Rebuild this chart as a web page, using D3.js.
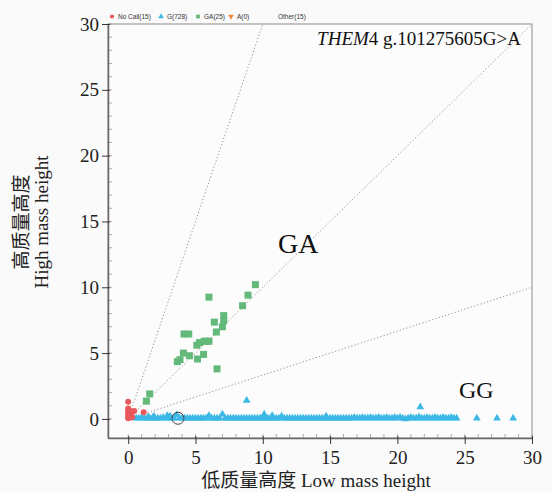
<!DOCTYPE html>
<html>
<head>
<meta charset="utf-8">
<style>
  body { margin: 0; background: #fafafa; }
  svg { display: block; }
</style>
</head>
<body>
<script src="https://d3js.org/d3.v7.min.js"></script>
<div id="chart"></div>
<script>
// legend entries
const legendItems = [
  { label: "No Call(15)", color: "#e8595b", shape: "circle" },
  { label: "G(728)", color: "#3bb8e6", shape: "triangle" },
  { label: "GA(25)", color: "#62b97a", shape: "square" },
  { label: "A(0)", color: "#f08a3c", shape: "down" },
  { label: "Other(15)", color: "none", shape: "none" }
]

const xTicks = [0, 5, 10, 15, 20, 25, 30]
const yTicks = [0, 5, 10, 15, 20, 25, 30]
const refSlopes = [3, 1, 1 / 3]

// No Call (red circles)
const noCall = [
  [0, 1.3], [0, 0.8], [0, 0.6], [0, 0.45], [0, 0.3], [0, 0.15], [0, 0.05],
  [0.1, 0.2], [0.15, 0.35], [0.3, 0.55], [0.45, 0.6], [0.2, 0.1], [0.05, 0.7],
  [1.15, 0.5], [0.3, 0.15]
]

// GA (green squares)
const gaPoints = [
  [1.6, 1.9], [1.35, 1.35], [3.65, 4.35], [3.85, 4.5], [4.1, 5.0], [4.55, 4.8],
  [4.15, 6.45], [4.5, 6.45], [5.15, 4.55], [5.6, 4.9], [5.1, 5.6], [5.3, 5.8],
  [5.65, 5.9], [6.0, 5.9], [6.6, 3.8], [6.0, 9.25], [6.4, 7.35], [6.55, 6.6],
  [7.0, 7.0], [7.1, 7.45], [7.1, 7.85], [8.5, 8.6], [8.9, 9.4], [9.45, 10.2],
  [5.85, 5.9]
]

// G (blue triangles): dense band near zero
const gBand = [
  [0.6, 0.05], [0.8, 0.05], [1.0, 0.1], [1.2, 0.05], [1.4, 0.05], [1.5, 0.15], [1.6, 0.05], [1.8, 0.05], [1.9, 0.2], [2.0, 0.05],
  [2.2, 0.05], [2.4, 0.05], [2.6, 0.1], [2.8, 0.05], [2.9, 0.25], [3.0, 0.05], [3.1, 0.2], [3.2, 0.05], [3.4, 0.05], [3.6, 0.3],
  [3.8, 0.05], [4.0, 0.05], [4.2, 0.05], [4.4, 0.05], [4.6, 0.05], [4.8, 0.05], [5.0, 0.05], [5.2, 0.05], [5.4, 0.05], [5.6, 0.05],
  [5.8, 0.05], [6.0, 0.25], [6.2, 0.05], [6.4, 0.05], [6.6, 0.05], [6.8, 0.05], [7.0, 0.35], [7.2, 0.05], [7.4, 0.05], [7.6, 0.05],
  [7.8, 0.05], [8.0, 0.05], [8.2, 0.05], [8.4, 0.05], [8.6, 0.05], [8.8, 0.05], [9.0, 0.05], [9.2, 0.05], [9.4, 0.05], [9.6, 0.05],
  [9.8, 0.05], [10.0, 0.05], [10.1, 0.35], [10.2, 0.05], [10.4, 0.05], [10.6, 0.05], [10.7, 0.25], [10.8, 0.05], [11.0, 0.05], [11.2, 0.05],
  [11.4, 0.2], [11.6, 0.05], [11.8, 0.05], [12.0, 0.05], [12.2, 0.05], [12.4, 0.05], [12.6, 0.05], [12.8, 0.05], [13.0, 0.05], [13.2, 0.05],
  [13.4, 0.05], [13.6, 0.05], [13.8, 0.05], [14.0, 0.05], [14.2, 0.05], [14.4, 0.05], [14.6, 0.05], [14.7, 0.2], [14.8, 0.05], [15.0, 0.05],
  [15.2, 0.05], [15.4, 0.05], [15.6, 0.05], [15.8, 0.05], [16.0, 0.05], [16.2, 0.05], [16.4, 0.05], [16.6, 0.05], [16.8, 0.1], [17.0, 0.05],
  [17.2, 0.05], [17.4, 0.1], [17.6, 0.05], [17.8, 0.05], [18.0, 0.1], [18.2, 0.05], [18.4, 0.05], [18.6, 0.1], [18.8, 0.05], [19.0, 0.05],
  [19.2, 0.1], [19.4, 0.05], [19.6, 0.05], [19.8, 0.1], [20.0, 0.05], [20.2, 0.1], [20.4, 0.05], [20.6, 0.0], [20.8, 0.05], [21.0, 0.1],
  [21.2, 0.05], [21.4, 0.05], [21.6, 0.15], [21.8, 0.05], [22.0, 0.05], [22.2, 0.1], [22.4, 0.05], [22.6, 0.05], [22.8, 0.1], [23.0, 0.05],
  [23.2, 0.05], [23.4, 0.1], [23.6, 0.05], [23.8, 0.05], [24.0, 0.1], [24.2, 0.05], [24.4, 0.05]
]

// G outliers
const gOutliers = [[8.8, 1.4], [21.7, 0.9], [25.9, 0.05], [27.4, 0.05], [28.6, 0.05]]

const highlight = [3.7, 0.05]

const width = 552
const height = 492
const margin = { top: 24, right: 20, bottom: 54, left: 108 }

const serif = "'Liberation Serif', 'Noto Sans CJK SC', serif"

const svg = d3.select("#chart").append("svg")
  .attr("width", width).attr("height", height)

const x = d3.scaleLinear().domain([-1.5, 30]).range([margin.left, width - margin.right])
const y = d3.scaleLinear().domain([-1.45, 30]).range([height - margin.bottom, margin.top])

const x0 = x.range()[0], x1 = x.range()[1]
const y0 = y.range()[0], y1 = y.range()[1]

// frame
svg.append("rect")
  .attr("x", x0).attr("y", y1)
  .attr("width", x1 - x0).attr("height", y0 - y1)
  .attr("fill", "#fcfcfc").attr("stroke", "#8a8a8a").attr("stroke-width", 1)

// minor ticks, drawn inside
const minor = d3.range(0, 31)
svg.append("g").selectAll("line").data(minor).enter().append("line")
  .attr("x1", x0).attr("x2", x0 + 4)
  .attr("y1", d => y(d)).attr("y2", d => y(d))
  .attr("stroke", "#b0aaaa")
svg.append("g").selectAll("line").data(minor).enter().append("line")
  .attr("y1", y0).attr("y2", y0 - 4)
  .attr("x1", d => x(d)).attr("x2", d => x(d))
  .attr("stroke", "#b0aaaa")

// axes
const xAxis = svg.append("g")
  .attr("transform", "translate(0," + y0 + ")")
  .call(d3.axisBottom(x).tickValues(xTicks).tickSize(6).tickSizeOuter(0))
const yAxis = svg.append("g")
  .attr("transform", "translate(" + x0 + ",0)")
  .call(d3.axisLeft(y).tickValues(yTicks).tickSize(6).tickSizeOuter(0))

;[xAxis, yAxis].forEach(a => {
  a.select(".domain").attr("stroke", "#6e6664").attr("stroke-width", 1.5)
  a.selectAll(".tick line").attr("stroke", "#3a3434")
  a.selectAll("text").attr("font-family", serif).attr("font-size", 19).attr("fill", "#222")
})
xAxis.selectAll(".tick line").attr("y1", -2)
yAxis.selectAll(".tick line").attr("x1", 2)
xAxis.selectAll("text").attr("dy", "0.9em")
yAxis.selectAll("text").attr("x", -9)

// reference lines from the origin
svg.append("clipPath").attr("id", "clip").append("rect")
  .attr("x", x0).attr("y", y1).attr("width", x1 - x0).attr("height", y0 - y1)

svg.append("g").attr("clip-path", "url(#clip)")
  .selectAll("line").data(refSlopes).enter().append("line")
  .attr("x1", x(0)).attr("y1", y(0))
  .attr("x2", d => x(40)).attr("y2", d => y(40 * d))
  .attr("stroke", "#9a8e8e").attr("stroke-width", 1)
  .attr("stroke-dasharray", "1.2,2.2")

// points
const plot = svg.append("g")
const tri = d3.symbol().type(d3.symbolTriangle).size(26)

plot.selectAll(".g").data(gBand.concat(gOutliers)).enter().append("path")
  .attr("class", "g")
  .attr("transform", d => "translate(" + x(d[0]) + "," + y(d[1]) + ")")
  .attr("d", tri)
  .attr("fill", "#3bb8e6")

plot.selectAll(".nc").data(noCall).enter().append("circle")
  .attr("class", "nc")
  .attr("cx", d => x(d[0])).attr("cy", d => y(d[1])).attr("r", 3)
  .attr("fill", "#e8595b")

plot.selectAll(".ga").data(gaPoints).enter().append("rect")
  .attr("class", "ga")
  .attr("x", d => x(d[0]) - 3.5).attr("y", d => y(d[1]) - 3.5)
  .attr("width", 7).attr("height", 7)
  .attr("fill", "#62b97a")

plot.append("circle")
  .attr("cx", x(highlight[0])).attr("cy", y(highlight[1])).attr("r", 6)
  .attr("fill", "none").attr("stroke", "#444").attr("stroke-width", 1)

// region labels
svg.append("text").attr("x", 278).attr("y", 253)
  .attr("font-family", serif).attr("font-size", 28).attr("fill", "#111")
  .text("GA")
svg.append("text").attr("x", 459).attr("y", 398)
  .attr("font-family", serif).attr("font-size", 24).attr("fill", "#111")
  .text("GG")

// title
const title = svg.append("text").attr("x", 521).attr("y", 45)
  .attr("text-anchor", "end")
  .attr("font-family", serif).attr("font-size", 19).attr("fill", "#111")
title.append("tspan").attr("font-style", "italic").text("THEM")
title.append("tspan").text("4  g.101275605G>A")

// axis titles
svg.append("text").attr("x", 316).attr("y", 487)
  .attr("text-anchor", "middle")
  .attr("font-family", serif).attr("font-size", 19).attr("fill", "#222")
  .text("低质量高度 Low mass height")

const yt = svg.append("text")
  .attr("transform", "translate(28,222) rotate(-90)")
  .attr("text-anchor", "middle")
  .attr("font-family", serif).attr("font-size", 19).attr("fill", "#222")
yt.append("tspan").attr("x", 0).attr("y", 0).text("高质量高度")
yt.append("tspan").attr("x", 0).attr("y", 20).text("High mass height")

// legend
const legendX = [112, 161, 198, 231, 272]
const leg = svg.append("g").selectAll("g").data(legendItems).enter().append("g")
  .attr("transform", (d, i) => "translate(" + legendX[i] + ",16.5)")
leg.append("path")
  .attr("d", d => {
    if (d.shape === "circle") return d3.symbol().type(d3.symbolCircle).size(14)()
    if (d.shape === "triangle") return d3.symbol().type(d3.symbolTriangle).size(14)()
    if (d.shape === "square") return d3.symbol().type(d3.symbolSquare).size(14)()
    if (d.shape === "down") return d3.symbol().type(d3.symbolTriangle).size(14)()
    return null
  })
  .attr("transform", d => d.shape === "down" ? "rotate(180)" : null)
  .attr("fill", d => d.color)
leg.append("text")
  .attr("x", 6).attr("y", 2.2)
  .attr("font-family", "'Liberation Sans', sans-serif").attr("font-size", 6.5)
  .attr("fill", "#333")
  .text(d => d.label)
</script>
</body>
</html>
